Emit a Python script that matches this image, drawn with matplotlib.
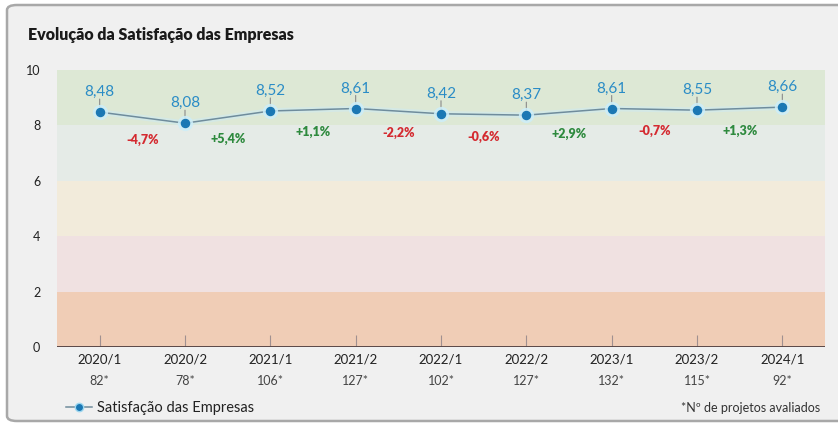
import numpy as np
import matplotlib.pyplot as plt
from matplotlib.patches import FancyBboxPatch
from matplotlib.lines import Line2D
plt.switch_backend('agg')

plt.rcParams['font.family'] = ['Lato', 'DejaVu Sans']

periods = ['2020/1', '2020/2', '2021/1', '2021/2', '2022/1',
           '2022/2', '2023/1', '2023/2', '2024/1']
n_projects = [82, 78, 106, 127, 102, 127, 132, 115, 92]
satisfaction = [8.48, 8.08, 8.52, 8.61, 8.42, 8.37, 8.61, 8.55, 8.66]
changes = [-4.7, 5.4, 1.1, -2.2, -0.6, 2.9, -0.7, 1.3]

bands = [(0, 2, '#f0cdb6'), (2, 4, '#f0e1e1'), (4, 6, '#f2ebdb'),
         (6, 8, '#e5ebe7'), (8, 10, '#dde8d5')]

W, H = 838, 423
fig = plt.figure(figsize=(W / 100, H / 100), dpi=100)
fig.patch.set_facecolor('white')

# rounded panel
panel = FancyBboxPatch((7 / W, 1 - 421 / H), 840 / W, 416 / H,
                       boxstyle='round,pad=0,rounding_size=0.012',
                       transform=fig.transFigure, facecolor='#f0f0f0',
                       edgecolor='#a8a8a8', lw=1.8, zorder=-10)
fig.patches.append(panel)

fig.text(28 / W, 1 - 35 / H, 'Evolução da Satisfação das Empresas',
         fontsize=11.5, fontweight='heavy', color='#1a1a1a', va='center')

ax = fig.add_axes([57 / W, (H - 347) / H, 768 / W, 277 / H])
ax.set_facecolor('none')
x = np.arange(len(periods))

for lo, hi, c in bands:
    ax.axhspan(lo, hi, color=c, lw=0, zorder=0)

ax.set_xlim(-0.5, len(periods) - 0.5)
ax.set_ylim(0, 10)
for s in ax.spines.values():
    s.set_visible(False)
ax.axhline(0, color='#5a4848', lw=1.4, zorder=3)
ax.vlines(x, 0, 0.42, color='#a09090', lw=0.8, zorder=2)

ax.set_yticks([0, 2, 4, 6, 8, 10])
ax.set_yticklabels(['0', '2', '4', '6', '8', '10'])
ax.tick_params(axis='y', length=0, pad=12, labelsize=9, labelcolor='#222222')
ax.set_xticks(x)
ax.set_xticklabels(periods)
ax.tick_params(axis='x', length=0, pad=5, labelsize=9.5, labelcolor='#222222')

for i, n in enumerate(n_projects):
    ax.annotate('%d*' % n, (i, 0), xycoords=('data', 'axes fraction'),
                xytext=(0, -34), textcoords='offset pixels',
                ha='center', va='center', fontsize=9, color='#444444')

# line with glow
ax.plot(x, satisfaction, color='#cdeaf6', lw=4, alpha=0.5, zorder=4)
ax.plot(x, satisfaction, color='#6f8c9c', lw=1.1, zorder=5)
ax.plot(x, satisfaction, 'o', color='#cdeef9', markersize=10, alpha=0.8, zorder=5)
ax.plot(x, satisfaction, 'o', color='#1b78b4', markersize=5.8, zorder=6)

for i, v in enumerate(satisfaction):
    ax.annotate('', xy=(i, v), xytext=(0, 13), textcoords='offset pixels',
                arrowprops=dict(arrowstyle='-', color='#8a8a8a', lw=0.8,
                                shrinkA=0, shrinkB=4), zorder=4)
    ax.annotate(('%.2f' % v).replace('.', ','), (i, v), xytext=(0, 13),
                textcoords='offset pixels', ha='center', va='bottom',
                fontsize=11, color='#2a8cc6', zorder=7)

for i, c in enumerate(changes):
    mid = (satisfaction[i] + satisfaction[i + 1]) / 2
    txt = ('%+.1f%%' % c).replace('.', ',')
    ax.annotate(txt, (i + 0.5, mid), xytext=(0, -22),
                textcoords='offset pixels', ha='center', va='center',
                fontsize=9, fontweight='heavy',
                color='#d42a30' if c < 0 else '#2e8a3e', zorder=7)

# legend
handle = Line2D([], [], color='#6f8c9c', lw=1.1, marker='o',
                markersize=6, markerfacecolor='#1b78b4',
                markeredgecolor='#9fd8f0')
fig.legend(handles=[handle], labels=['Satisfação das Empresas'],
           loc='center left', bbox_to_anchor=(53 / W, 1 - 408 / H),
           frameon=False, fontsize=10.5, handlelength=1.8, handletextpad=0.3,
           labelcolor='#222222')

fig.text(820 / W, 1 - 408 / H, '*Nº de projetos avaliados',
         ha='right', va='center', fontsize=9, color='#333333')

fig.savefig('out.png', dpi=100)
